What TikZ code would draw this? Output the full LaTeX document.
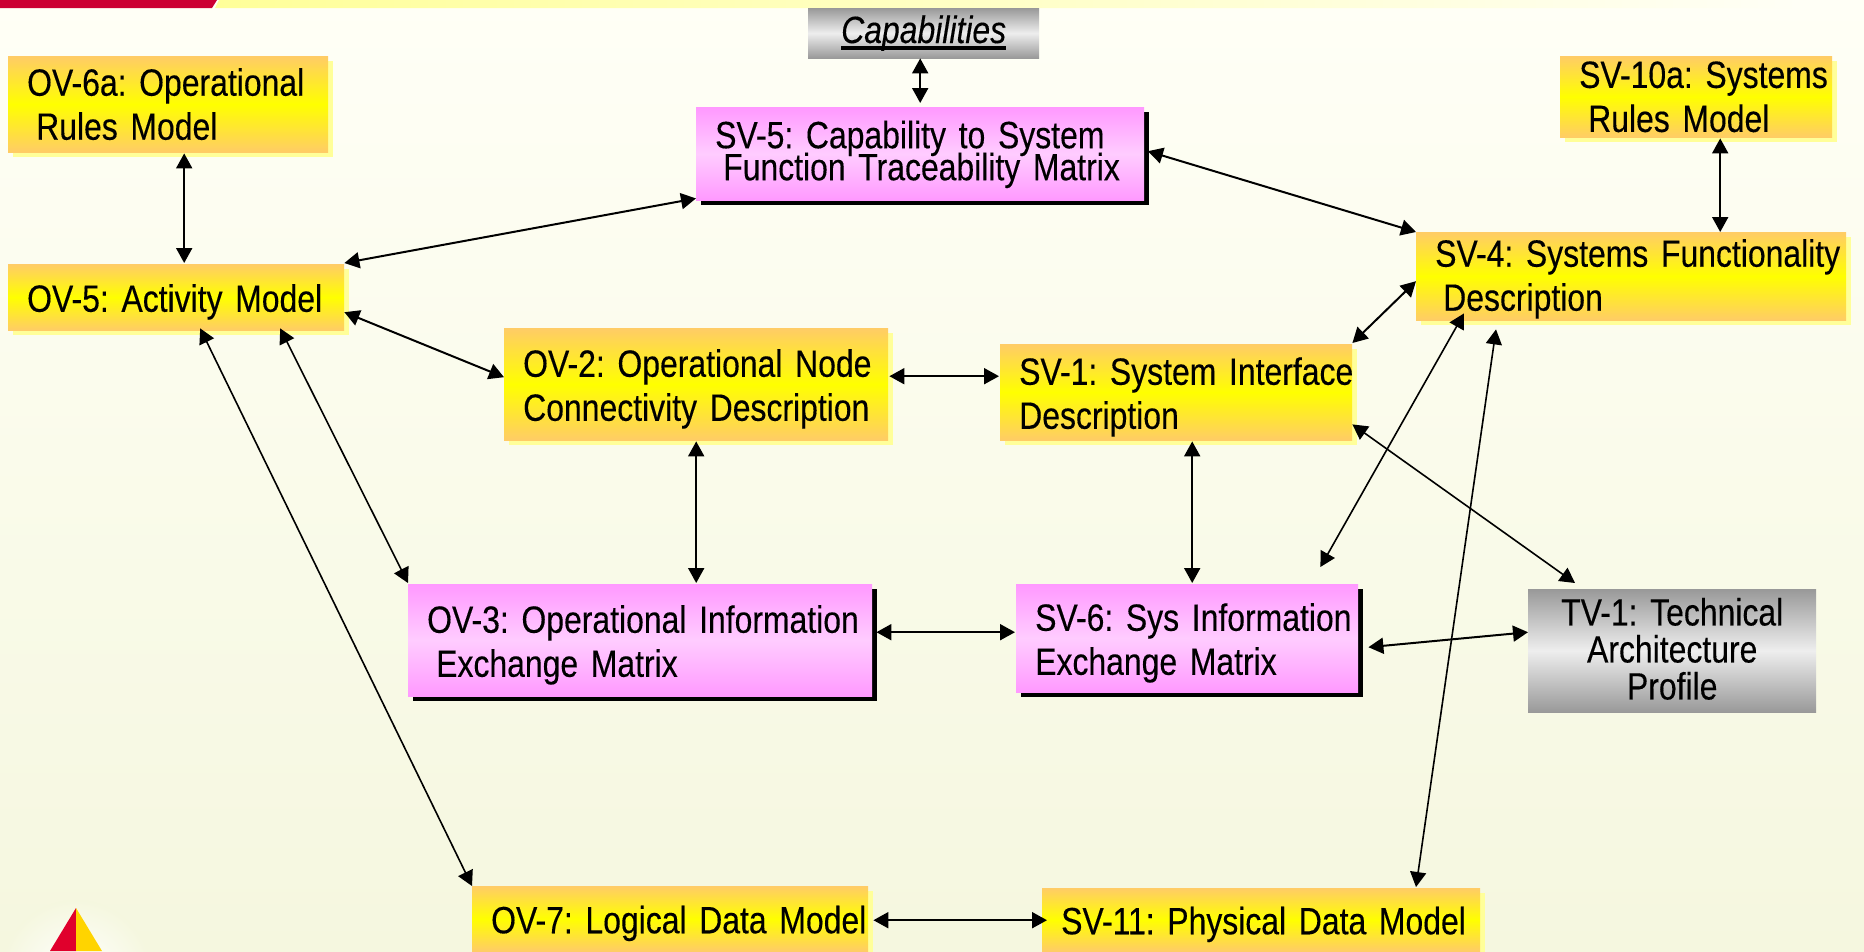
\documentclass[tikz,border=0pt]{standalone}
\usepackage{fontspec}
\setmainfont[FakeStretch=0.84,FakeBold=0.25]{Liberation Sans}
\usetikzlibrary{arrows.meta,shadows}
\definecolor{orangeedge}{HTML}{FFCC66}
\definecolor{paleyellow}{HTML}{FFFF99}
\definecolor{pinkedge}{HTML}{FF99FF}
\definecolor{pinkmid}{HTML}{FFCCFF}
\definecolor{greyedge}{HTML}{999999}
\definecolor{greymid}{HTML}{EEEEEE}
\definecolor{pagetop}{HTML}{FFFFF6}
\definecolor{pagebottom}{HTML}{F5F7DF}
\definecolor{barred}{HTML}{CC0033}
\definecolor{logored}{HTML}{E0002C}
\definecolor{logoyellow}{HTML}{FFD400}
\newcommand{\thickuline}[1]{\setbox0\hbox{#1}\rlap{\rule[-7pt]{\wd0}{4pt}}\box0}
\newcommand{\viewfont}[1]{\fontsize{38}{#1}\selectfont\frenchspacing\spaceskip=10pt\relax\lineskiplimit=-50pt\relax}
\newcommand{\lifttext}[2]{\raisebox{#1}[0pt][0pt]{#2}}
\tikzset{
  viewbox/.style={anchor=north west, inner xsep=19pt, inner ysep=0pt, align=left,
    font=\viewfont{44}},
  lowtext/.style={execute at begin node={\rule{0pt}{37pt}}},
  uptext/.style={execute at end node={\rule[-#1]{0pt}{0pt}}},
  plaintext/.style={execute at begin node={}},
  yellowbox/.style={viewbox, lowtext, top color=orangeedge, bottom color=orangeedge, middle color=yellow,
    drop shadow={shadow xshift=5pt, shadow yshift=-5pt, fill=paleyellow, opacity=1}},
  pinkbox/.style={viewbox, lowtext, top color=pinkedge, bottom color=pinkedge, middle color=pinkmid,
    drop shadow={shadow xshift=5pt, shadow yshift=-5pt, fill=black, opacity=1}},
  greybox/.style={viewbox, top color=greyedge, bottom color=greyedge, middle color=greymid},
  boxsize/.style n args={2}{minimum width=#1, minimum height=#2, text width=#1-38pt},
  link/.style={<->, >={Triangle[length=15pt,width=16pt]}, line width=2pt},
  thinlink/.style={link, line width=1.6pt}
}
\begin{document}
\begin{tikzpicture}[x=1pt,y=-1pt]
  \useasboundingbox (0,0) rectangle (1864,951);
  % page
  \shade[top color=pagetop, bottom color=pagebottom] (0,0) rectangle (1864,951);
  \shade[left color=paleyellow, right color=pagetop] (219,0) -- (1800,0) -- (1800,8) -- (215,8) -- cycle;
  \fill[barred] (0,0) -- (217,0) -- (212,8) -- (0,8) -- cycle;
  \shade[inner color=white, outer color=pagebottom] (76,975) circle (75);
  \fill[logored] (76,908) -- (76,951) -- (50,951) -- cycle;
  \fill[logoyellow] (76,908) -- (102,951) -- (76,951) -- cycle;
  % operational views
  \node[yellowbox, uptext=10pt, boxsize={320pt}{96pt}] (ov6a) at (8,56) {\mbox{OV-6a: Operational}\\\hspace*{9pt}Rules Model};
  \node[yellowbox, boxsize={336pt}{66pt}] (ov5) at (8,264) {\mbox{OV-5: Activity Model}};
  \node[yellowbox, boxsize={384pt}{112pt}] (ov2) at (504,328) {\mbox{OV-2: Operational Node}\\\mbox{Connectivity Description}};
  \node[pinkbox, boxsize={464pt}{112pt}] (ov3) at (408,584) {\mbox{OV-3: Operational Information}\\\hspace*{9pt}Exchange Matrix};
  \node[yellowbox, boxsize={396pt}{65pt}] (ov7) at (472,886) {\mbox{OV-7: Logical Data Model}};
  % system views
  \node[greybox, boxsize={231pt}{50pt}, align=center] (cap) at (808,8) {\itshape\thickuline{Capabilities}};
  \node[pinkbox, uptext=16pt, boxsize={448pt}{93pt}, font=\viewfont{32}] (sv5) at (696,107) {\mbox{SV-5: Capability to System}\\\hspace*{8pt}\mbox{Function Traceability Matrix}};
  \node[yellowbox, plaintext, boxsize={272pt}{80pt}] (sv10a) at (1560,56) {\lifttext{5.3pt}{SV-10a: Systems}\\\hspace*{9pt}\lifttext{5.3pt}{Rules Model}};
  \node[yellowbox, plaintext, boxsize={430pt}{88pt}] (sv4) at (1416,232) {\lifttext{6pt}{SV-4: Systems Functionality}\\\hspace*{8pt}\lifttext{6pt}{Description}};
  \node[yellowbox, boxsize={352pt}{96pt}] (sv1) at (1000,344) {\mbox{SV-1: System Interface}\\Description};
  \node[pinkbox, boxsize={342pt}{108pt}] (sv6) at (1016,584) {\mbox{SV-6: Sys Information}\\Exchange Matrix};
  \node[yellowbox, boxsize={438pt}{63pt}] (sv11) at (1042,888) {\mbox{SV-11: Physical Data Model}};
  \node[greybox, uptext=4pt, boxsize={288pt}{123pt}, align=center, font=\viewfont{37}] (tv1) at (1528,589) {TV-1: Technical\\Architecture\\Profile};
  % connectors
  \draw[link] ([xshift=16pt,yshift=-1pt]ov6a.south) -- ([xshift=8pt,yshift=1pt]ov5.north);
  \draw[link] ([xshift=-3.5pt]cap.south) -- ([yshift=4pt]sv5.north);
  \draw[link] ([yshift=1pt]ov5.north east) -- ([yshift=2pt]sv5.south west);
  \draw[link] ([xshift=3.5pt,yshift=2.5pt]sv5.east) -- (sv4.north west);
  \draw[link] ([xshift=24pt,yshift=-1pt]sv10a.south) -- ([xshift=89pt]sv4.north);
  \draw[link] ([yshift=-15pt]ov5.east) -- ([yshift=7pt]ov2.west);
  \draw[thinlink] ([xshift=104pt,yshift=2pt]ov5.south) -- ([yshift=1pt]ov3.north west);
  \draw[thinlink] ([xshift=24pt,yshift=2pt]ov5.south) -- (ov7.north west);
  \draw[link] ([xshift=1pt,yshift=8pt]ov2.east) -- ([xshift=-1pt,yshift=16pt]sv1.west);
  \draw[link] ([yshift=-1pt]ov2.south) -- ([xshift=56pt,yshift=1pt]ov3.north);
  \draw[link] ([xshift=16pt,yshift=-1pt]sv1.south) -- ([xshift=5pt,yshift=1pt]sv6.north);
  \draw[link] ([yshift=1pt]sv1.north east) -- ([yshift=-5pt]sv4.west);
  \draw[thinlink] ([yshift=16pt]sv1.south east) -- ([xshift=47pt,yshift=6pt]tv1.north west);
  \draw[thinlink] ([xshift=-38pt,yshift=17pt]sv6.north east) -- ([xshift=48pt,yshift=7pt]sv4.south west);
  \draw[thinlink] ([xshift=80pt,yshift=-9pt]sv4.south west) -- ([xshift=374pt,yshift=1pt]sv11.north west);
  \draw[link] ([xshift=4pt,yshift=8pt]ov3.east) -- ([xshift=-1pt,yshift=6pt]sv6.west);
  \draw[link] ([xshift=10pt,yshift=-9pt]sv6.east) -- ([yshift=18.5pt]tv1.west);
  \draw[link] ([xshift=5pt,yshift=-1.5pt]ov7.east) -- ([xshift=5pt,yshift=-0.5pt]sv11.west);
\end{tikzpicture}
\end{document}
